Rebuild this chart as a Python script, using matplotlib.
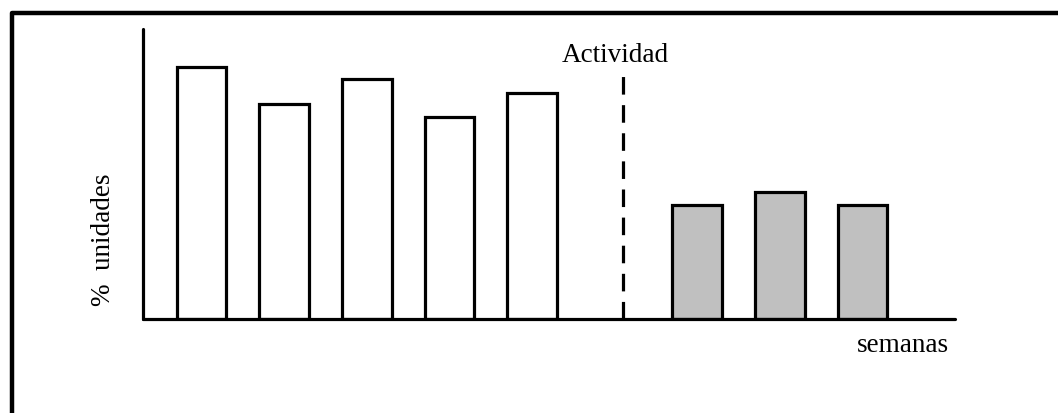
import matplotlib
matplotlib.use("Agg")
import matplotlib.pyplot as plt
from matplotlib.lines import Line2D

# datos (alto de barra en px sobre el eje)
semanas_antes = [0, 1, 2, 3, 4]
valores_antes = [252, 215, 240, 202, 226]
semanas_despues = [6, 7, 8]
valores_despues = [114, 127, 114]
semana_actividad = 5.1
alto_actividad = 243

plt.rcParams["font.family"] = ["Liberation Serif", "DejaVu Serif"]

fig = plt.figure(figsize=(10.58, 4.14), dpi=100)
ax = fig.add_axes([143 / 1058, (414 - 320) / 414, (955 - 143) / 1058, 290 / 414])

ax.bar(semanas_antes, valores_antes, width=0.6, color="white",
       edgecolor="black", linewidth=2.3, zorder=2)
ax.bar(semanas_despues, valores_despues, width=0.6, color="#c0c0c0",
       edgecolor="black", linewidth=2.3, zorder=2)
ax.plot([semana_actividad, semana_actividad], [0, alto_actividad], color="black",
        linewidth=2.3, linestyle=(0, (5.5, 3.3)), zorder=1)

ax.set_xlim(-0.71, 9.12)
ax.set_ylim(0, 290)
for s in ["top", "right"]:
    ax.spines[s].set_visible(False)
ax.spines["left"].set_linewidth(2.3)
ax.spines["bottom"].set_linewidth(2.3)
ax.spines["left"].set_capstyle("round")
ax.spines["bottom"].set_capstyle("round")
ax.set_xticks([])
ax.set_yticks([])

fig.text(615 / 1058, 1 - 56 / 414, "Actividad", ha="center", va="center", fontsize=19.5)
fig.text(903 / 1058, 1 - 346 / 414, "semanas", ha="center", va="center", fontsize=19.5)
fig.text(103 / 1058, 1 - 240 / 414, "%  unidades", ha="center", va="center",
         rotation=90, fontsize=19.5)

# marco exterior (solo se ven el borde izquierdo y el superior)
fig.add_artist(Line2D([12 / 1058, 12 / 1058, 1.0], [0.0, 1 - 14 / 414, 1 - 14 / 414],
                      transform=fig.transFigure, color="black", linewidth=3.2,
                      solid_joinstyle="round"))

fig.savefig("out.png", dpi=100)
